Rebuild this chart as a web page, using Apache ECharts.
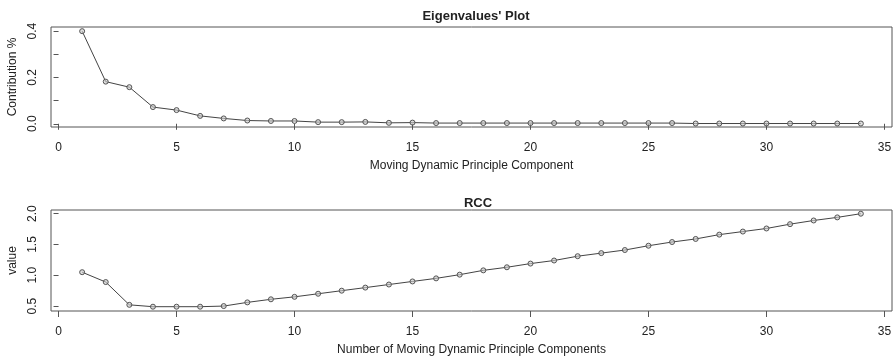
<!DOCTYPE html>
<html>
<head>
<meta charset="utf-8">
<script src="https://cdn.jsdelivr.net/npm/echarts@6/dist/echarts.min.js"></script>
<style>html,body{margin:0;padding:0;background:#fff}#c{width:893px;height:361px}</style>
</head>
<body>
<div id="c"></div>
<script>
const components = [1,2,3,4,5,6,7,8,9,10,11,12,13,14,15,16,17,18,19,20,21,22,23,24,25,26,27,28,29,30,31,32,33,34];
const contribution = [0.400,0.182,0.158,0.072,0.059,0.034,0.023,0.014,0.012,0.012,0.007,0.007,0.008,0.004,0.005,0.003,0.003,0.003,0.003,0.003,0.003,0.003,0.003,0.003,0.003,0.003,0.001,0.001,0.001,0.001,0.001,0.001,0.001,0.001];
const rcc = [1.05,0.89,0.52,0.49,0.49,0.49,0.50,0.56,0.61,0.65,0.70,0.75,0.80,0.85,0.90,0.95,1.01,1.08,1.13,1.19,1.24,1.31,1.36,1.41,1.48,1.54,1.59,1.66,1.71,1.76,1.83,1.89,1.94,2.00];
const xTicks = [0,5,10,15,20,25,30,35];
const yTicksTop = [0,0.1,0.2,0.3,0.4];
const yLabelsTop = [0,0.2,0.4];
const yTicksBottom = [0.5,1.0,1.5,2.0];

const textColor = '#222';
const lineColor = '#555';
const font = 'Liberation Sans, Arial, sans-serif';

function xAxisCfg(gridIndex, name) {
  return {
    type: 'value', gridIndex: gridIndex, min: -0.32, max: 35.32,
    name: name, nameLocation: 'middle', nameGap: 33,
    nameTextStyle: {color: textColor, fontSize: 12, fontFamily: font},
    axisLine: {show: false},
    splitLine: {show: false},
    axisTick: {show: true, inside: false, length: 6, customValues: xTicks, lineStyle: {color: lineColor}},
    axisLabel: {show: true, margin: 15, customValues: xTicks, color: textColor, fontSize: 12, fontFamily: font}
  };
}
function yAxisCfg(gridIndex, name, min, max, ticks, labels) {
  return {
    type: 'value', gridIndex: gridIndex, min: min, max: max,
    name: name, nameLocation: 'middle', nameGap: 32,
    nameTextStyle: {color: textColor, fontSize: 12, fontFamily: font},
    axisLine: {show: false},
    splitLine: {show: false},
    axisTick: {show: true, inside: false, length: 5, customValues: ticks, lineStyle: {color: lineColor}},
    axisLabel: {show: true, rotate: 90, margin: 12, customValues: labels, color: textColor, fontSize: 12, fontFamily: font,
      formatter: v => Number(v).toFixed(1)}
  };
}
function seriesCfg(idx, values) {
  return {
    type: 'line', xAxisIndex: idx, yAxisIndex: idx,
    data: components.map((c, i) => [c, values[i]]),
    symbol: 'circle', symbolSize: 5, showSymbol: true,
    lineStyle: {color: '#444', width: 1},
    itemStyle: {color: 'rgba(200,200,200,0.6)', borderColor: '#555', borderWidth: 1},
    animation: false, silent: true
  };
}

const chart = echarts.init(document.getElementById('c'), null, {renderer: 'canvas'});
chart.setOption({
  backgroundColor: '#fff',
  animation: false,
  title: [
    {text: "Eigenvalues' Plot", left: 471, top: 5, textAlign: 'center',
     textStyle: {fontSize: 13, fontWeight: 'bold', color: textColor, fontFamily: font}},
    {text: 'RCC', left: 473, top: 192, textAlign: 'center',
     textStyle: {fontSize: 13, fontWeight: 'bold', color: textColor, fontFamily: font}}
  ],
  grid: [
    {left: 51, top: 27, width: 841, height: 100, show: true, borderColor: lineColor, borderWidth: 1, backgroundColor: 'transparent', containLabel: false, outerBoundsMode: 'none'},
    {left: 51, top: 210, width: 841, height: 101, show: true, borderColor: lineColor, borderWidth: 1, backgroundColor: 'transparent', containLabel: false, outerBoundsMode: 'none'}
  ],
  xAxis: [
    xAxisCfg(0, 'Moving Dynamic Principle Component'),
    xAxisCfg(1, 'Number of Moving Dynamic Principle Components')
  ],
  yAxis: [
    yAxisCfg(0, 'Contribution %', -0.014, 0.418, yTicksTop, yLabelsTop),
    yAxisCfg(1, 'value', 0.42, 2.06, yTicksBottom, yTicksBottom)
  ],
  series: [seriesCfg(0, contribution), seriesCfg(1, rcc)]
});
</script>
</body>
</html>
